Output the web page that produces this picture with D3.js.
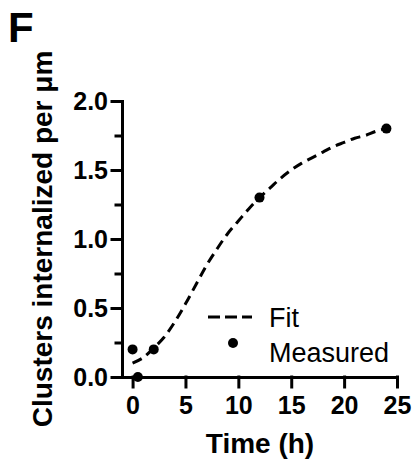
<!DOCTYPE html>
<html>
<head>
<meta charset="utf-8">
<script src="https://cdn.jsdelivr.net/npm/d3@7"></script>
<style>
  body { margin: 0; background: #fff; }
  svg { display: block; font-family: "Liberation Sans", Arial, sans-serif; }
</style>
</head>
<body>
<script>
// measured values
var timeH = [0, 0.5, 2, 12, 24];
var measured = [0.2, 0, 0.2, 1.3, 1.8];

// fitted curve
var fitTime = [0, 1, 2, 3, 4, 5, 6, 7, 8, 9, 10, 11, 12, 13, 14, 15, 16, 17, 18, 19, 20, 21, 22, 23, 24];
var fitValue = [0.1, 0.14, 0.21, 0.29, 0.4, 0.53, 0.67, 0.81, 0.93, 1.04, 1.13, 1.22, 1.3, 1.37, 1.44, 1.5, 1.55, 1.59, 1.63, 1.67, 1.7, 1.73, 1.75, 1.78, 1.8];

var xTicks = [0, 5, 10, 15, 20, 25];
var yTicks = [0, 0.5, 1.0, 1.5, 2.0];
var yMinor = [0.25, 0.75, 1.25, 1.75];
var legendLabels = ['Fit', 'Measured'];

var width = 414, height = 459;

var svg = d3.select('body')
    .append('svg')
    .attr('width', width)
    .attr('height', height);

var x = d3.scaleLinear().domain([-1, 25]).range([122, 397]);
var y = d3.scaleLinear().domain([0, 2]).range([377, 101]);

// minor y ticks
svg.append('g')
    .attr('transform', 'translate(' + x(-1) + ',0)')
    .call(d3.axisLeft(y).tickValues(yMinor).tickSize(6).tickFormat(''))
    .call(function (g) { g.select('.domain').remove(); });

var yAxis = svg.append('g')
    .attr('transform', 'translate(' + x(-1) + ',0)')
    .call(d3.axisLeft(y).tickValues(yTicks).tickSize(10).tickPadding(4)
        .tickSizeOuter(0).tickFormat(d3.format('.1f')));

var xAxis = svg.append('g')
    .attr('transform', 'translate(0,' + y(0) + ')')
    .call(d3.axisBottom(x).tickValues(xTicks).tickSize(10).tickPadding(9)
        .tickSizeOuter(0));

svg.selectAll('.domain, .tick line')
    .attr('stroke', '#000')
    .attr('stroke-width', 3)
    .attr('stroke-linecap', 'square');
svg.selectAll('.tick text')
    .attr('fill', '#000')
    .style('font-size', '25px')
    .style('font-weight', 'bold');

// fit line
var line = d3.line()
    .x(function (d, i) { return x(fitTime[i]); })
    .y(function (d) { return y(d); })
    .curve(d3.curveCatmullRom);

svg.append('path')
    .datum(fitValue)
    .attr('d', line)
    .attr('fill', 'none')
    .attr('stroke', '#000')
    .attr('stroke-width', 3)
    .attr('stroke-dasharray', '10,6');

// measured points
svg.append('g')
    .selectAll('circle')
    .data(measured)
    .enter()
    .append('circle')
    .attr('cx', function (d, i) { return x(timeH[i]); })
    .attr('cy', function (d) { return y(d); })
    .attr('r', 5)
    .attr('fill', '#000');

// legend
var lg = svg.append('g');
lg.append('line')
    .attr('x1', 208).attr('x2', 252)
    .attr('y1', 317).attr('y2', 317)
    .attr('stroke', '#000')
    .attr('stroke-width', 3)
    .attr('stroke-dasharray', '12,5');
lg.append('circle')
    .attr('cx', 233).attr('cy', 343)
    .attr('r', 5)
    .attr('fill', '#000');
lg.selectAll('text')
    .data(legendLabels)
    .enter()
    .append('text')
    .attr('x', 269)
    .attr('y', function (d, i) { return 327 + i * 35; })
    .style('font-size', '27px')
    .text(function (d) { return d; });

// axis titles
svg.append('text')
    .attr('x', 260)
    .attr('y', 453)
    .attr('text-anchor', 'middle')
    .style('font-size', '28px')
    .style('font-weight', 'bold')
    .text('Time (h)');

svg.append('text')
    .attr('transform', 'translate(52,239) rotate(-90)')
    .attr('text-anchor', 'middle')
    .style('font-size', '28px')
    .style('font-weight', 'bold')
    .text('Clusters internalized per μm');

// panel letter
svg.append('text')
    .attr('x', 8)
    .attr('y', 42)
    .style('font-size', '42px')
    .style('font-weight', 'bold')
    .text('F');
</script>
</body>
</html>
